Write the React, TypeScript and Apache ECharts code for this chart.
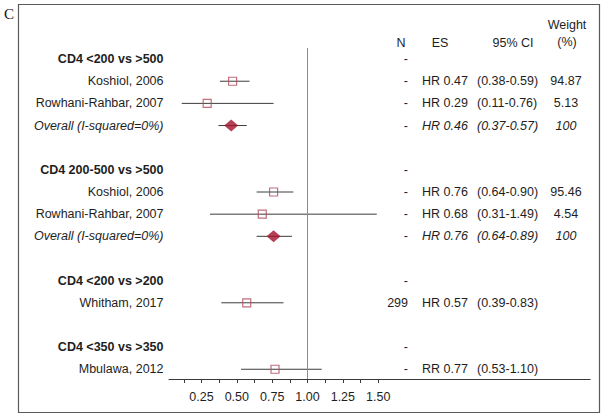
import React, { useEffect, useRef } from "react";
import * as echarts from "echarts";

// ---- data ----
const groupTitles = ["CD4 <200 vs >500", "CD4 200-500 vs >500", "CD4 <200 vs >200", "CD4 <350 vs >350"];
const studyNames = [
  "Koshiol, 2006",
  "Rowhani-Rahbar, 2007",
  "Overall (I-squared=0%)",
  "Koshiol, 2006",
  "Rowhani-Rahbar, 2007",
  "Overall (I-squared=0%)",
  "Whitham, 2017",
  "Mbulawa, 2012",
];
const studyGroup = [0, 0, 0, 1, 1, 1, 2, 3];
const isOverall = [false, false, true, false, false, true, false, false];
const measure = ["HR", "HR", "HR", "HR", "HR", "HR", "HR", "RR"];
const es = [0.47, 0.29, 0.46, 0.76, 0.68, 0.76, 0.57, 0.77];
const ciLow = [0.38, 0.11, 0.37, 0.64, 0.31, 0.64, 0.39, 0.53];
const ciHigh = [0.59, 0.76, 0.57, 0.9, 1.49, 0.89, 0.83, 1.1];
const nText = ["-", "-", "-", "-", "-", "-", "299", "-"];
const weights = ["94.87", "5.13", "100", "95.46", "4.54", "100", "", ""];
const xTickValues = [0.125, 0.25, 0.375, 0.5, 0.625, 0.75, 0.875, 1, 1.125, 1.25, 1.375, 1.5];
const xLabelValues = [0.25, 0.5, 0.75, 1, 1.25, 1.5];
const headers = ["N", "ES", "95% CI", "Weight", "(%)"];

// ---- layout of rows (group header, studies, blank) ----
type RowInfo = { row: number; kind: number; index: number };
const rows: RowInfo[] = [];
const studyRow: number[] = [];
{
  let r = 0;
  groupTitles.forEach((_, g) => {
    rows.push({ row: r, kind: 0, index: g });
    r++;
    studyNames.forEach((_, i) => {
      if (studyGroup[i] === g) {
        rows.push({ row: r, kind: 1, index: i });
        studyRow[i] = r;
        r++;
      }
    });
    r++;
  });
}

const FONT = '"Liberation Sans", Arial, Helvetica, sans-serif';
const TXT = "#1e1e1e";
const FS = 12.5;
const COL_LABEL = 163.5;
const COL_N = 408;
const COL_ES = 422;
const COL_CI = 477;
const COL_W = 566;

function textEl(text: string, x: number, y: number, align: string, italic: boolean, bold: boolean) {
  return {
    type: "text",
    x,
    y,
    style: {
      text,
      fill: TXT,
      fontSize: FS,
      fontFamily: FONT,
      fontStyle: italic ? "italic" : "normal",
      fontWeight: bold ? "bold" : "normal",
      align,
      verticalAlign: "middle",
    },
  };
}

export default function App() {
  const ref = useRef<HTMLDivElement>(null);
  useEffect(() => {
    if (!ref.current) return;
    const chart = echarts.init(ref.current, undefined, { renderer: "svg" });

    const ciData = es.map((_, i) => [ciLow[i], ciHigh[i], studyRow[i], i]);
    const squareData = es.map((v, i) => (isOverall[i] ? null : [v, studyRow[i]])).filter((d) => d);
    const diamondData = es.map((v, i) => (isOverall[i] ? [v, studyRow[i]] : null)).filter((d) => d);
    const textData = rows.map((r) => [1, r.row, r.kind, r.index]);

    chart.setOption({
      animation: false,
      backgroundColor: "#ffffff",
      grid: { left: 169, right: 13.8, top: 48, bottom: 39 },
      xAxis: {
        type: "value",
        min: 0.02,
        max: 3,
        splitLine: { show: false },
        axisLine: { show: true, onZero: false, lineStyle: { color: "#3a3a3a", width: 1 } },
        axisTick: { show: true, length: 4, customValues: xTickValues, lineStyle: { color: "#3a3a3a" } },
        axisLabel: {
          customValues: xLabelValues,
          margin: 11,
          color: TXT,
          fontSize: FS,
          fontFamily: FONT,
          formatter: (v: number) => v.toFixed(2),
        },
      },
      yAxis: {
        type: "value",
        min: -0.5,
        max: 14.44,
        inverse: true,
        show: false,
        splitLine: { show: false },
      },
      graphic: [
        {
          type: "rect",
          shape: { x: 18.5, y: 4.5, width: 581, height: 408 },
          style: { fill: "none", stroke: "#5a5a5a", lineWidth: 1.2 },
          silent: true,
        },
        {
          type: "text",
          x: 9,
          y: 14,
          style: {
            text: "C",
            fill: "#111",
            fontSize: 15,
            fontFamily: '"Liberation Serif", "Times New Roman", serif',
            align: "center",
            verticalAlign: "middle",
          },
        },
        textEl(headers[0], 401, 43, "center", false, false),
        textEl(headers[1], 440, 43, "center", false, false),
        textEl(headers[2], 513, 43, "center", false, false),
        textEl(headers[3], 567, 25, "center", false, false),
        textEl(headers[4], 567, 42, "center", false, false),
      ],
      series: [
        {
          type: "custom",
          name: "ci",
          encode: { x: [0, 1], y: 2 },
          data: ciData,
          renderItem: (_params: any, api: any) => {
            const a = api.coord([api.value(0), api.value(2)]);
            const b = api.coord([api.value(1), api.value(2)]);
            return {
              type: "line",
              shape: { x1: a[0], y1: a[1], x2: b[0], y2: b[1] },
              style: { stroke: "#3c3c3c", lineWidth: 1 },
            };
          },
          markLine: {
            silent: true,
            symbol: "none",
            label: { show: false },
            lineStyle: { color: "#8a8a8a", width: 1, type: "solid" },
            data: [{ xAxis: 1 }],
          },
          z: 2,
        },
        {
          type: "scatter",
          name: "studies",
          data: squareData,
          symbol: "rect",
          symbolSize: [8, 8],
          itemStyle: { color: "rgba(0,0,0,0)", borderColor: "#b24a5c", borderWidth: 1.2 },
          z: 3,
        },
        {
          type: "scatter",
          name: "overall",
          data: diamondData,
          symbol: "diamond",
          symbolSize: [14, 12],
          itemStyle: { color: "#a3122c" },
          z: 4,
        },
        {
          type: "custom",
          name: "texts",
          encode: { x: 0, y: 1 },
          data: textData,
          renderItem: (_params: any, api: any) => {
            const y = api.coord([1, api.value(1)])[1];
            const kind = api.value(2);
            const i = api.value(3);
            if (kind === 0) {
              return {
                type: "group",
                children: [
                  textEl(groupTitles[i], COL_LABEL, y, "right", false, true),
                  textEl("-", COL_N, y, "right", false, false),
                ],
              };
            }
            const it = isOverall[i];
            const children: any[] = [
              textEl(studyNames[i], COL_LABEL, y, "right", it, false),
              textEl(nText[i], COL_N, y, "right", false, false),
              textEl(measure[i] + " " + es[i].toFixed(2), COL_ES, y, "left", it, false),
              textEl("(" + ciLow[i].toFixed(2) + "-" + ciHigh[i].toFixed(2) + ")", COL_CI, y, "left", it, false),
            ];
            if (weights[i]) children.push(textEl(weights[i], COL_W, y, "center", it, false));
            return { type: "group", children };
          },
          z: 5,
        },
      ],
    });
    return () => chart.dispose();
  }, []);
  return (
    <div
      ref={ref}
      style={{ position: "fixed", left: 0, top: 0, width: 604, height: 418, background: "#fff" }}
    />
  );
}
